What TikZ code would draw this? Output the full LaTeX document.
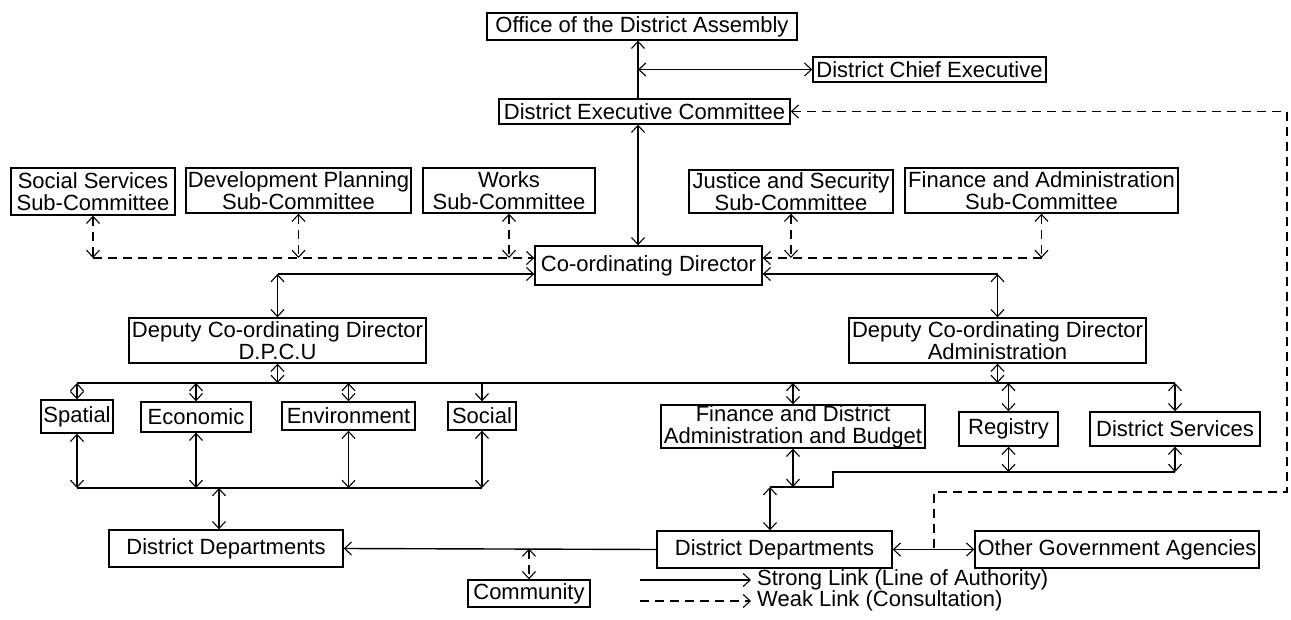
\documentclass[tikz,border=0pt]{standalone}
\usepackage{fontspec}
\setmainfont{Liberation Sans}
\usetikzlibrary{arrows.meta}
\begin{document}
\begin{tikzpicture}[x=1pt,y=-1pt,
  box/.style={draw,line width=1.4pt,inner sep=0pt,align=center,
    font=\fontsize{22}{22}\selectfont},
  conn/.style={line width=1.4pt},
  >={Straight Barb[length=7pt,width=13pt,line width=1.1pt]},
  weak/.style={line width=1.4pt,dash pattern=on 9pt off 6pt},
  lbl/.style={inner sep=0pt,anchor=west,font=\fontsize{22}{22}\selectfont}]
\fill[white] (0,0) rectangle (1291,620);
\useasboundingbox (0,0) rectangle (1291,620);

% nodes
\node[box,minimum width=310,minimum height=27] (Office) at (642,26.5) {Office of the District Assembly};
\node[box,minimum width=233,minimum height=25] (DCE) at (929.5,69.5) {District Chief Executive};
\node[box,minimum width=291,minimum height=25] (DEC) at (644.5,111.5) {District Executive Committee};
\node[box,minimum width=164,minimum height=47] (SS) at (93,191.5) {Social Services\\Sub-Committee};
\node[box,minimum width=225,minimum height=45] (DP) at (298.5,190.5) {Development Planning\\Sub-Committee};
\node[box,minimum width=172,minimum height=45] (WK) at (509,190.5) {Works\\Sub-Committee};
\node[box,minimum width=204,minimum height=43] (JS) at (791,191.5) {Justice and Security\\Sub-Committee};
\node[box,minimum width=273,minimum height=45] (FA) at (1041.5,190.5) {Finance and Administration\\Sub-Committee};
\node[box,minimum width=227,minimum height=39] (CD) at (648.5,265.5) {Co-ordinating Director};
\node[box,minimum width=297,minimum height=45] (DPCU) at (277.5,340.5) {Deputy Co-ordinating Director\\D.P.C.U};
\node[box,minimum width=297,minimum height=45] (DCDA) at (997.5,340.5) {Deputy Co-ordinating Director\\Administration};
\node[box,minimum width=72,minimum height=33] (Spatial) at (77,416.5) {Spatial};
\node[box,minimum width=110,minimum height=30] (Economic) at (196,417) {Economic};
\node[box,minimum width=133,minimum height=28] (Environment) at (348.5,416) {Environment};
\node[box,minimum width=68,minimum height=28] (Social) at (482,416) {Social};
\node[box,minimum width=264,minimum height=43] (FD) at (793,426.5) {Finance and District\\Administration and Budget};
\node[box,minimum width=99,minimum height=34] (Registry) at (1008.5,429) {Registry};
\node[box,minimum width=170,minimum height=34] (DS) at (1175,429) {District Services};
\node[box,minimum width=234,minimum height=37] (DDL) at (226,548.5) {District Departments};
\node[box,minimum width=235,minimum height=37] (DDR) at (774.5,549.5) {District Departments};
\node[box,minimum width=284,minimum height=37] (OGA) at (1117,549.5) {Other Government Agencies};
\node[box,minimum width=122,minimum height=27] (Com) at (529,593.5) {Community};
\node[lbl] (LS) at (757,580) {Strong Link (Line of Authority)};
\node[lbl] (LW) at (757,601) {Weak Link (Consultation)};

% helper coordinates
\coordinate (mx) at (638,0);
\coordinate (jc) at (638,69.5);
\coordinate (cdl) at (0,258);
\coordinate (sl) at (0,274);
\coordinate (bus) at (0,383);
\coordinate (lb) at (0,488);
\coordinate (ddl) at (219,488);
\coordinate (st) at (0,472);
\coordinate (st2) at (0,487);
\coordinate (sx) at (833,0);
\coordinate (dr) at (770,487);
\coordinate (d1) at (1287,492);
\coordinate (d2) at (934,492);
\coordinate (LSa) at (640,580);
\coordinate (LWa) at (640,601);

% top
\draw[conn,<-] (Office.south -| mx) -- (DEC.north -| mx);
\draw[conn,<->] (jc) -- (DCE.west);
\draw[conn,<->] (DEC.south -| mx) -- (CD.north -| mx);
\draw[weak,<-] (DEC.east) -| (d1) -- (d2) -- (d2 |- OGA.west);

% sub-committees
\foreach \n in {SS,DP,WK,JS,FA}
  \draw[weak,<->] (\n.south) -- (\n.south |- cdl);
\draw[weak,->] (SS.south |- cdl) -- (CD.west |- cdl);
\draw[weak,->] (FA.south |- cdl) -- (CD.east |- cdl);

% co-ordinating director to deputies
\draw[conn,<->] (DPCU.north) -- (DPCU.north |- sl);
\draw[conn,->] (DPCU.north |- sl) -- (CD.west |- sl);
\draw[conn,<->] (DCDA.north) -- (DCDA.north |- sl);
\draw[conn,->] (DCDA.north |- sl) -- (CD.east |- sl);

% main bus
\draw[conn] (Spatial.north |- bus) -- (DS.north |- bus);
\draw[conn,<->] (DPCU.south) -- (DPCU.south |- bus);
\draw[conn,<->] (DCDA.south) -- (DCDA.south |- bus);
\foreach \n in {Spatial,Economic,Environment,FD,Registry,DS}
  \draw[conn,<->] (\n.north |- bus) -- (\n.north);
\draw[conn,->] (Social.north |- bus) -- (Social.north);

% lower left bus
\draw[conn] (Spatial.south |- lb) -- (Social.south |- lb);
\foreach \n in {Spatial,Economic,Environment,Social}
  \draw[conn,<->] (\n.south) -- (\n.south |- lb);
\draw[conn,<->] (ddl) -- (DDL.north -| ddl);

% lower right step
\draw[conn,<->] (Registry.south) -- (Registry.south |- st);
\draw[conn,<->] (DS.south) -- (DS.south |- st);
\draw[conn] (DS.south |- st) -- (sx |- st) -- (sx |- st2) -- (dr);
\draw[conn,<->] (FD.south) -- (FD.south |- st2);
\draw[conn,<->] (dr) -- (DDR.north -| dr);

% bottom links
\draw[conn,<->] (DDR.east) -- (OGA.west);
\draw[conn,->] (DDR.west) -- (DDL.east);
\draw[weak,<->] (Com.north |- DDL.east) -- (Com.north);

% legend
\draw[conn,->] (LSa) -- ([xshift=-6pt]LS.west);
\draw[weak,->] (LWa) -- ([xshift=-6pt]LW.west);
\end{tikzpicture}
\end{document}
